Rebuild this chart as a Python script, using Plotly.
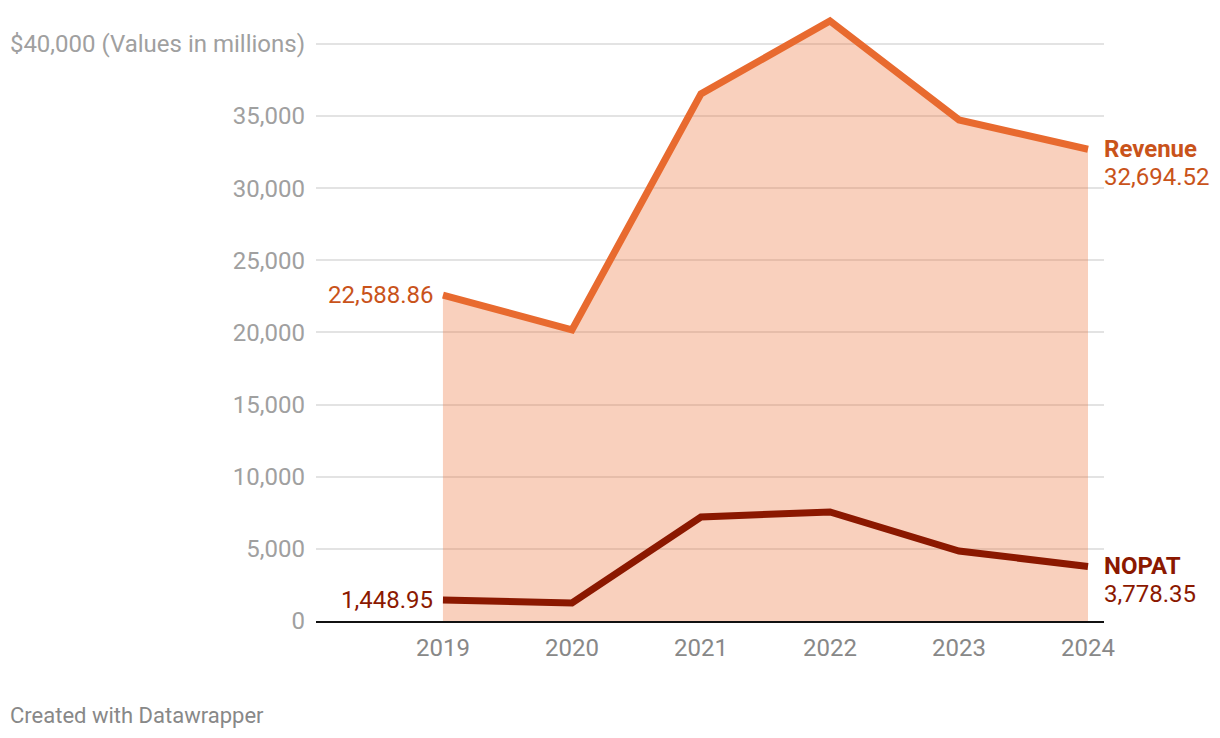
import plotly.graph_objects as go

years = [2019, 2020, 2021, 2022, 2023, 2024]
revenue = [22588.86, 20170, 36530, 41590, 34730, 32694.52]
nopat = [1448.95, 1250, 7210, 7560, 4850, 3778.35]

y_tickvals = [0, 5000, 10000, 15000, 20000, 25000, 30000, 35000, 40000]
y_ticktext = ["0", "5,000", "10,000", "15,000", "20,000", "25,000", "30,000", "35,000",
              "$40,000 (Values in millions)"]

rev_line = "#e86a2f"
rev_text = "#c9531a"
nop_line = "#8b1800"
nop_text = "#8b1800"
font = "Roboto"
FS = 24

W, H = 1220, 738
ML, MR, MT, MB = 308, 124, 7, 125

fig = go.Figure()
fig.add_trace(go.Scatter(
    x=years, y=revenue, mode="lines", fill="tozeroy",
    fillcolor="rgba(236,110,50,0.32)",
    line=dict(color=rev_line, width=7), hoverinfo="skip"))
fig.add_trace(go.Scatter(
    x=years, y=nopat, mode="lines",
    line=dict(color=nop_line, width=7), hoverinfo="skip"))

def fmt(v):
    return f"{v:,.2f}"

ann = []
for name, vals, col in [("Revenue", revenue, rev_text), ("NOPAT", nopat, nop_text)]:
    ann.append(dict(x=years[-1], y=vals[-1], xref="x", yref="y",
                    text="<b>" + name + "</b>", showarrow=False,
                    xanchor="left", yanchor="middle", xshift=14, yshift=0,
                    font=dict(family=font, size=FS, color=col)))
    ann.append(dict(x=years[-1], y=vals[-1], xref="x", yref="y",
                    text=fmt(vals[-1]), showarrow=False,
                    xanchor="left", yanchor="middle", xshift=14, yshift=-28,
                    font=dict(family=font, size=FS, color=col)))
    ann.append(dict(x=years[0], y=vals[0], xref="x", yref="y",
                    text=fmt(vals[0]), showarrow=False,
                    xanchor="right", yanchor="middle", xshift=-8,
                    font=dict(family=font, size=FS, color=col)))

plot_w = W - ML - MR
plot_h = H - MT - MB
ann.append(dict(x=(0 - ML) / plot_w, y=(H - MB - 707) / plot_h,
                xref="paper", yref="paper", text="Created with Datawrapper",
                showarrow=False, xanchor="left", yanchor="middle",
                font=dict(family=font, size=22, color="#888888")))

fig.update_layout(
    width=W, height=H,
    margin=dict(l=ML, r=MR, t=MT, b=MB, autoexpand=False),
    paper_bgcolor="white", plot_bgcolor="white",
    showlegend=False,
    font=dict(family=font, size=FS, color="#999999"),
    xaxis=dict(range=[2018.016, 2024.124], tickvals=years,
               ticktext=[str(y) for y in years], automargin=False,
               showgrid=False, zeroline=False,
               showline=True, linecolor="#111111", linewidth=2,
               ticks="", ticklabelstandoff=4,
               tickfont=dict(family=font, size=FS, color="#888888")),
    yaxis=dict(range=[0, 42000], tickvals=y_tickvals, ticktext=y_ticktext,
               automargin=False,
               showgrid=True, gridcolor="#e3e3e3", gridwidth=1.5,
               zeroline=False, showline=False, ticks="",
               ticklabelstandoff=10,
               tickfont=dict(family=font, size=FS, color="#a0a0a0")),
    annotations=ann,
)

fig.write_html("out.html")
